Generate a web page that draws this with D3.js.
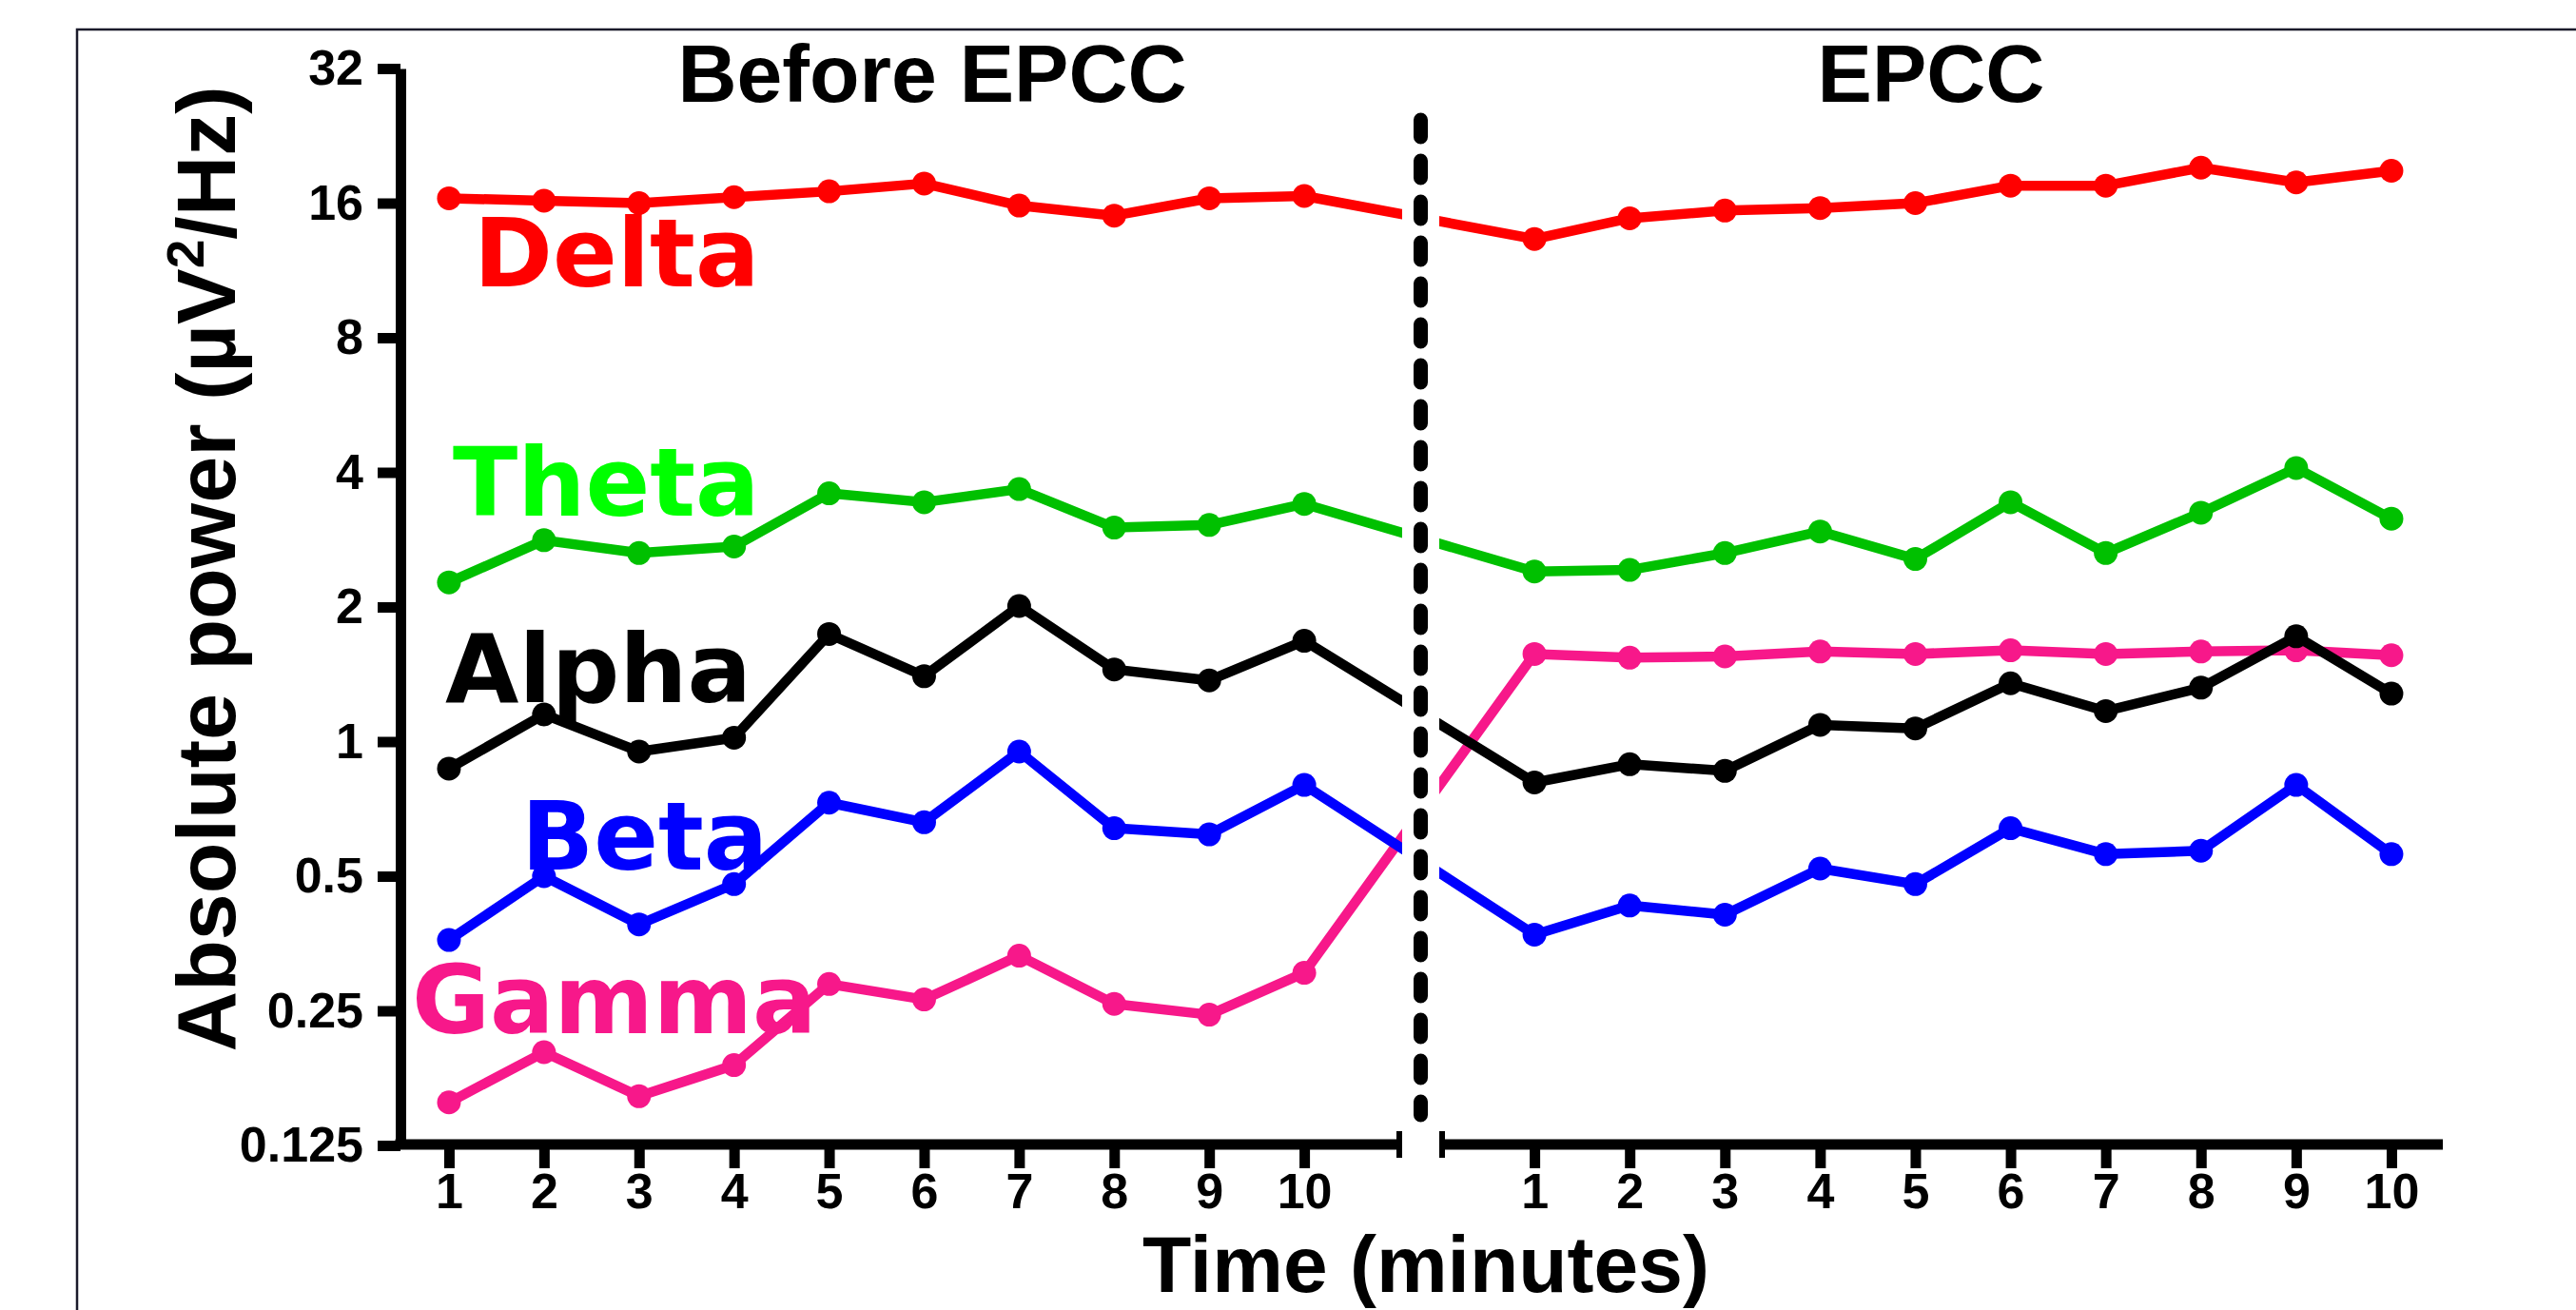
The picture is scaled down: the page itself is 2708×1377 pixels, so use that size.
<!DOCTYPE html>
<html>
<head>
<meta charset="utf-8">
<script src="https://cdn.jsdelivr.net/npm/d3@7/dist/d3.min.js"></script>
<style>
  body { margin: 0; background: #fff; }
  .tick text { font-family: "Liberation Sans", Arial, sans-serif; font-weight: 700; font-size: 52px; fill: #000; }
</style>
</head>
<body>
<div id="chart"></div>
<script>
// minutes recorded in each block
var minutes = [1, 2, 3, 4, 5, 6, 7, 8, 9, 10];
var yTicks = [0.125, 0.25, 0.5, 1, 2, 4, 8, 16, 32];
var yTickLabels = ["0.125", "0.25", "0.5", "1", "2", "4", "8", "16", "32"];
var blocks = ["Before EPCC", "EPCC"];
var bands = ["Gamma", "Beta", "Alpha", "Theta", "Delta"];

// absolute power (µV²/Hz)
var deltaBefore = [16.4, 16.2, 16.0, 16.5, 17.0, 17.7, 15.8, 15.0, 16.4, 16.6];
var deltaEpcc   = [13.3, 14.8, 15.4, 15.6, 16.0, 17.5, 17.5, 19.2, 17.8, 18.9];
var thetaBefore = [2.27, 2.82, 2.64, 2.73, 3.59, 3.43, 3.67, 3.01, 3.05, 3.40];
var thetaEpcc   = [2.40, 2.42, 2.64, 2.95, 2.56, 3.43, 2.64, 3.25, 4.09, 3.15];
var alphaBefore = [0.87, 1.15, 0.95, 1.02, 1.74, 1.40, 2.01, 1.45, 1.37, 1.68];
var alphaEpcc   = [0.81, 0.89, 0.86, 1.09, 1.07, 1.35, 1.17, 1.32, 1.72, 1.28];
var betaBefore  = [0.36, 0.50, 0.39, 0.48, 0.73, 0.66, 0.95, 0.64, 0.62, 0.80];
var betaEpcc    = [0.37, 0.43, 0.41, 0.52, 0.48, 0.64, 0.56, 0.57, 0.80, 0.56];
var gammaBefore = [0.156, 0.202, 0.161, 0.189, 0.287, 0.265, 0.332, 0.259, 0.245, 0.304];
var gammaEpcc   = [1.57, 1.54, 1.55, 1.59, 1.57, 1.60, 1.57, 1.59, 1.60, 1.56];

var series = [
  { name: "Gamma", line: "#f7188a", label: "#f7188a", before: gammaBefore, after: gammaEpcc, lx: 433, ly: 1086 },
  { name: "Beta",  line: "#0000ff", label: "#0000ff", before: betaBefore,  after: betaEpcc,  lx: 548, ly: 914 },
  { name: "Alpha", line: "#000000", label: "#000000", before: alphaBefore, after: alphaEpcc, lx: 468, ly: 738 },
  { name: "Theta", line: "#00c000", label: "#00ff00", before: thetaBefore, after: thetaEpcc, lx: 476, ly: 542 },
  { name: "Delta", line: "#ff0000", label: "#ff0000", before: deltaBefore, after: deltaEpcc, lx: 498, ly: 301 }
];

var W = 2708, H = 1377;
var axisX = 421, axisY = 1203;
var breakL = 1474, breakR = 1513, axisEnd = 2568;
var axisW = 11;

var svg = d3.select("#chart")
  .append("svg")
    .attr("width", W)
    .attr("height", H);

// outer frame (cropped at right / bottom)
svg.append("rect")
  .attr("x", 81).attr("y", 31)
  .attr("width", W).attr("height", H)
  .attr("fill", "none")
  .attr("stroke", "#1b1b2b")
  .attr("stroke-width", 2.5);

var y = d3.scaleLog().base(2)
  .domain([0.125, 32])
  .range([1204, 72]);

var xBefore = d3.scaleLinear()
  .domain([0.49, 11.03])
  .range([axisX, breakL]);

var xAfter = d3.scaleLinear()
  .domain([0, 10.54])
  .range([breakR, axisEnd]);

// y axis
var yAxis = svg.append("g")
  .attr("transform", "translate(" + axisX + ",0)")
  .call(d3.axisLeft(y)
    .tickValues(yTicks)
    .tickFormat(function(d, i) { return yTickLabels[i]; })
    .tickSize(24)
    .tickSizeOuter(0)
    .tickPadding(15));
yAxis.select(".domain").attr("stroke", "#000").attr("stroke-width", axisW);
yAxis.selectAll(".tick line").attr("stroke", "#000").attr("stroke-width", axisW);

// x axes (two pieces with a break)
[[xBefore, axisX - axisW / 2, breakL], [xAfter, breakR, axisEnd]].forEach(function(p) {
  var g = svg.append("g")
    .attr("transform", "translate(0," + axisY + ")")
    .call(d3.axisBottom(p[0])
      .tickValues(minutes)
      .tickSize(25)
      .tickSizeOuter(0)
      .tickPadding(5));
  g.select(".domain").remove();
  g.selectAll(".tick line").attr("stroke", "#000").attr("stroke-width", axisW);
  g.append("line")
    .attr("x1", p[1]).attr("x2", p[2])
    .attr("stroke", "#000").attr("stroke-width", axisW);
});

// break caps
[breakL - 3, breakR + 3].forEach(function(cx) {
  svg.append("line")
    .attr("x1", cx).attr("x2", cx)
    .attr("y1", axisY - 14).attr("y2", axisY + 14)
    .attr("stroke", "#000").attr("stroke-width", 6);
});

// clip so the lines skip the break
var clip = svg.append("defs").append("clipPath").attr("id", "gap");
clip.append("rect").attr("x", 0).attr("y", 0).attr("width", breakL).attr("height", H);
clip.append("rect").attr("x", breakR).attr("y", 0).attr("width", W - breakR).attr("height", H);

var line = d3.line()
  .x(function(d) { return d.x; })
  .y(function(d) { return y(d.v); });

var plot = svg.append("g");

series.forEach(function(s) {
  var pts = minutes.map(function(m, i) { return { x: xBefore(m), v: s.before[i] }; })
    .concat(minutes.map(function(m, i) { return { x: xAfter(m), v: s.after[i] }; }));

  plot.append("path")
    .datum(pts)
    .attr("clip-path", "url(#gap)")
    .attr("fill", "none")
    .attr("stroke", s.line)
    .attr("stroke-width", 10.5)
    .attr("stroke-linejoin", "round")
    .attr("d", line);

  plot.append("g")
    .selectAll("circle")
    .data(pts)
    .enter()
    .append("circle")
      .attr("cx", function(d) { return d.x; })
      .attr("cy", function(d) { return y(d.v); })
      .attr("r", 12.5)
      .attr("fill", s.line);
});

// band labels
series.forEach(function(s) {
  svg.append("text")
    .attr("x", s.lx)
    .attr("y", s.ly)
    .style("font-family", "'DejaVu Sans', Verdana, sans-serif")
    .style("font-weight", 700)
    .style("font-size", "100px")
    .attr("fill", s.label)
    .text(s.name);
});

// dashed separator
var sepX = (breakL + breakR) / 2;
svg.append("line")
  .attr("x1", sepX).attr("x2", sepX)
  .attr("y1", 126).attr("y2", 1172)
  .attr("stroke", "#000")
  .attr("stroke-width", 15)
  .attr("stroke-linecap", "round")
  .attr("stroke-dasharray", "18 25");

// block titles
[[blocks[0], 980], [blocks[1], 2030]].forEach(function(t) {
  svg.append("text")
    .attr("x", t[1]).attr("y", 107)
    .style("text-anchor", "middle")
    .style("font-family", "'Liberation Sans', Arial, sans-serif")
    .style("font-weight", 700)
    .style("font-size", "86px")
    .text(t[0]);
});

// axis titles
svg.append("text")
  .attr("x", 1499).attr("y", 1358)
  .style("text-anchor", "middle")
  .style("font-family", "'Liberation Sans', Arial, sans-serif")
  .style("font-weight", 700)
  .style("font-size", "84px")
  .text("Time (minutes)");

var yt = svg.append("text")
  .attr("transform", "translate(247,598) rotate(-90)")
  .style("text-anchor", "middle")
  .style("font-family", "'Liberation Sans', Arial, sans-serif")
  .style("font-weight", 700)
  .style("font-size", "88px");
yt.append("tspan").text("Absolute power (µV");
yt.append("tspan").attr("dy", -33).style("font-size", "55px").text("2");
yt.append("tspan").attr("dy", 33).text("/Hz)");
</script>
</body>
</html>
